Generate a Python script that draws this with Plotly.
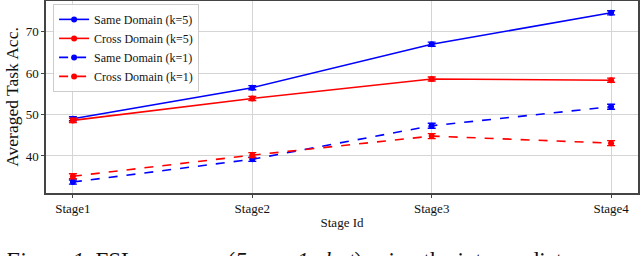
import plotly.graph_objects as go

stages = ["Stage1", "Stage2", "Stage3", "Stage4"]
same_k5 = [49.0, 56.5, 67.0, 74.6]
cross_k5 = [48.6, 53.9, 58.6, 58.3]
same_k1 = [33.7, 39.2, 47.3, 51.9]
cross_k1 = [35.1, 40.2, 44.8, 43.1]
err_same_k5 = [0.5, 0.5, 0.5, 0.5]
err_cross_k5 = [0.5, 0.5, 0.5, 0.5]
err_same_k1 = [0.5, 0.5, 0.6, 0.6]
err_cross_k1 = [0.6, 0.6, 0.6, 0.6]

series = [
    ("Same Domain (k=5)", same_k5, err_same_k5, "#0000ff", "solid"),
    ("Cross Domain (k=5)", cross_k5, err_cross_k5, "#ff0000", "solid"),
    ("Same Domain (k=1)", same_k1, err_same_k1, "#0000ff", "dash"),
    ("Cross Domain (k=1)", cross_k1, err_cross_k1, "#ff0000", "dash"),
]

xpos = list(range(len(stages)))
fig = go.Figure()
for name, vals, errs, color, dash in series:
    fig.add_trace(go.Scatter(
        x=xpos, y=vals, name=name, mode="lines+markers",
        line=dict(color=color, width=1.6, dash=dash),
        marker=dict(color=color, size=6, symbol="circle"),
        error_y=dict(type="data", array=errs, visible=True, color=color,
                     thickness=1.4, width=4),
    ))

font = "Liberation Serif, Times New Roman, serif"
fig.update_layout(
    width=640, height=256,
    margin=dict(l=46, r=2, t=1, b=63),
    plot_bgcolor="white", paper_bgcolor="white",
    font=dict(family=font, size=13, color="#111"),
    showlegend=True,
    legend=dict(x=0.012, y=0.985, xanchor="left", yanchor="top",
                bgcolor="rgba(255,255,255,0.85)", bordercolor="#cccccc",
                borderwidth=1, font=dict(size=12, family=font),
                tracegroupgap=0, itemwidth=30),
    xaxis=dict(range=[-0.15, 3.15], tickvals=xpos, ticktext=stages,
               automargin=False,
               showgrid=True, gridcolor="#d5d5d5", gridwidth=1.2,
               showline=True, linecolor="#444", linewidth=1.5, mirror=True,
               ticks="outside", ticklen=3, tickcolor="#444", zeroline=False,
               title=dict(text="Stage Id", font=dict(size=13), standoff=3),
               tickfont=dict(size=13)),
    yaxis=dict(range=[31.05, 77.45], tickvals=[40, 50, 60, 70],
               automargin=False,
               showgrid=True, gridcolor="#d5d5d5", gridwidth=1.2,
               showline=True, linecolor="#444", linewidth=1.5, mirror=True,
               ticks="outside", ticklen=3, tickcolor="#444", zeroline=False,
               title=dict(text="Averaged Task Acc.", font=dict(size=17.5), standoff=3),
               tickfont=dict(size=13)),
)

fig.add_annotation(
    text="<i>Figure 1.</i> FSL accuracy (<i>5-way 1-shot</i>) using the intermediate representations",
    xref="paper", yref="paper", x=-44/592, y=-(246-193)/192,
    xanchor="left", yanchor="top", showarrow=False,
    font=dict(family=font, size=23, color="#111"),
)

fig.write_html(
    "out.html",
    config={"displayModeBar": False},
    post_script="document.body.style.margin='0';document.body.style.overflow='hidden';",
)
